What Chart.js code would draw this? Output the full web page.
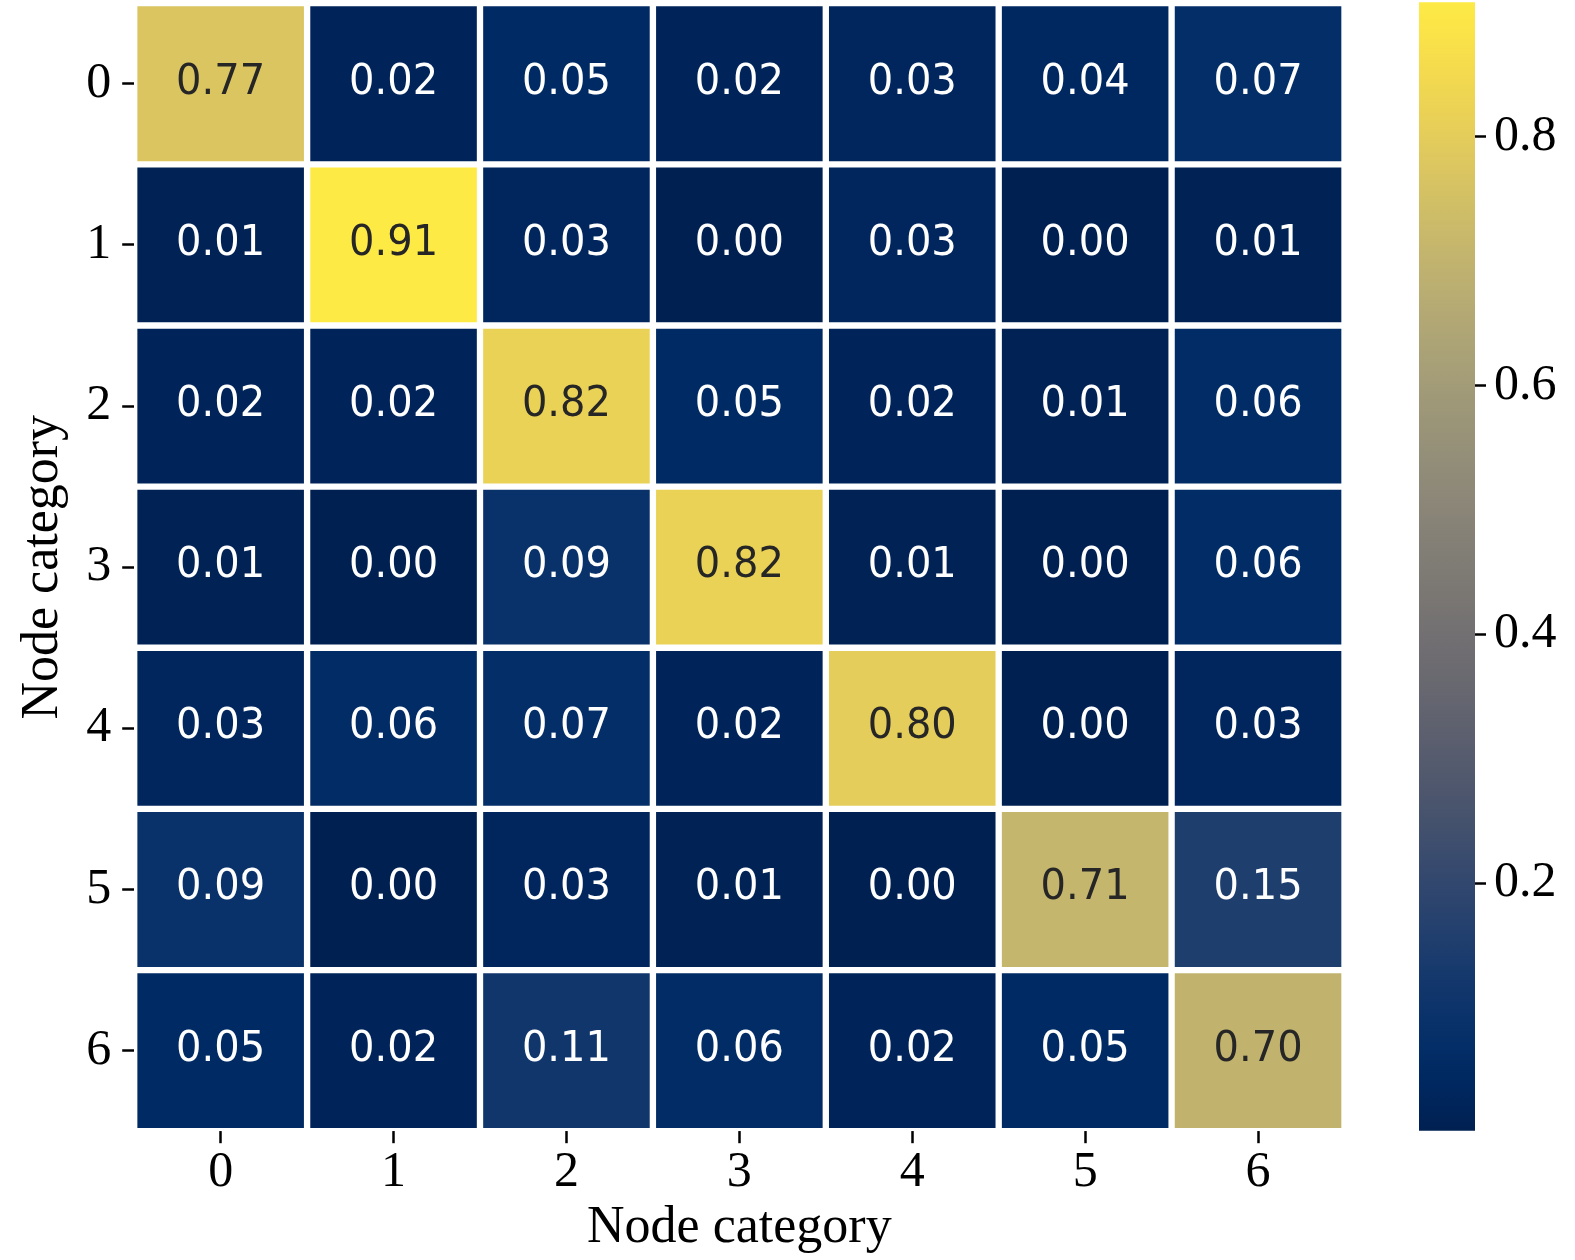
<!DOCTYPE html>
<html>
<head>
<meta charset="utf-8">
<title>Node category heatmap</title>
<script src="https://cdn.jsdelivr.net/npm/chart.js@4.4.1/dist/chart.umd.min.js"></script>
<style>
  html, body { margin: 0; padding: 0; background: #fff; }
  #wrap { position: relative; width: 1575px; height: 1260px; }
  #heat { position: absolute; left: 0; top: 0; width: 1390px; height: 1260px; }
  #cbar { position: absolute; left: 1390px; top: 0; width: 185px; height: 1260px; }
</style>
</head>
<body>
<div id="wrap">
  <canvas id="heat" width="1390" height="1260"></canvas>
  <canvas id="cbar" width="185" height="1260"></canvas>
</div>
<script>
// categories on both axes
const categories = ['0', '1', '2', '3', '4', '5', '6'];

// one array per row (true category)
const row0 = [0.77, 0.02, 0.05, 0.02, 0.03, 0.04, 0.07];
const row1 = [0.01, 0.91, 0.03, 0.00, 0.03, 0.00, 0.01];
const row2 = [0.02, 0.02, 0.82, 0.05, 0.02, 0.01, 0.06];
const row3 = [0.01, 0.00, 0.09, 0.82, 0.01, 0.00, 0.06];
const row4 = [0.03, 0.06, 0.07, 0.02, 0.80, 0.00, 0.03];
const row5 = [0.09, 0.00, 0.03, 0.01, 0.00, 0.71, 0.15];
const row6 = [0.05, 0.02, 0.11, 0.06, 0.02, 0.05, 0.70];
const matrix = [row0, row1, row2, row3, row4, row5, row6];

// colour bar range and ticks
const vmin = 0.001;
const vmax = 0.908;
const colorbarTicks = [0.2, 0.4, 0.6, 0.8];
const colorbarTickLabels = ['0.2', '0.4', '0.6', '0.8'];

const axisFont = 'Liberation Serif';
const cellFont = 'DejaVu Sans';

// cividis colormap (polynomial fit)
function cividis(t) {
  t = Math.max(0, Math.min(1, t));
  const r = -4.54 - t * (35.34 - t * (2381.73 - t * (6402.7 - t * (7024.72 - t * 2710.57))));
  const g = 32.49 + t * (170.73 + t * (52.82 - t * (131.46 - t * (176.58 - t * 67.37))));
  const b = 81.24 + t * (442.36 - t * (2482.43 - t * (6167.24 - t * (6614.94 - t * 2475.67))));
  return [r, g, b].map(c => Math.max(0, Math.min(255, Math.round(c))));
}

function norm(v) {
  return (v - vmin) / (vmax - vmin);
}

function rgb(c) {
  return `rgb(${c[0]}, ${c[1]}, ${c[2]})`;
}

// same rule as seaborn: dark text on light cells
function luminance(c) {
  const lin = c.map(x => {
    x = x / 255;
    return x <= 0.03928 ? x / 12.92 : Math.pow((x + 0.055) / 1.055, 2.4);
  });
  return 0.2126 * lin[0] + 0.7152 * lin[1] + 0.0722 * lin[2];
}

// no extra room for half tick labels at the ends
function noEdgePadding(s) {
  s.paddingTop = 0;
  s.paddingBottom = 0;
  s.paddingLeft = 0;
  s.paddingRight = 0;
}

// writes the value in each cell
const cellLabels = {
  id: 'cellLabels',
  afterDatasetsDraw(chart) {
    const ctx = chart.ctx;
    ctx.save();
    ctx.font = `40px "${cellFont}"`;
    ctx.textAlign = 'center';
    ctx.textBaseline = 'alphabetic';
    chart.data.datasets.forEach((ds, r) => {
      const meta = chart.getDatasetMeta(r);
      meta.data.forEach((bar, c) => {
        const v = matrix[r][c];
        const col = cividis(norm(v));
        ctx.fillStyle = luminance(col) > 0.408 ? '#262626' : '#ffffff';
        const cy = (bar.y + bar.base) / 2;
        ctx.save();
        ctx.translate(bar.x, cy + 10);
        ctx.scale(1, 1.07);
        ctx.fillText(v.toFixed(2), 0, 0);
        ctx.restore();
      });
    });
    ctx.restore();
  }
};

const tickGrid = {
  drawOnChartArea: false,
  drawTicks: true,
  tickLength: 12,
  tickWidth: 2.5,
  tickColor: '#000'
};

new Chart(document.getElementById('heat'), {
  type: 'bar',
  data: {
    labels: categories,
    datasets: matrix.map((row, r) => ({
      label: 'row ' + categories[r],
      data: row.map(() => [r - 0.5, r + 0.5]),
      backgroundColor: row.map(v => rgb(cividis(norm(v)))),
      borderColor: '#ffffff',
      borderWidth: 3.5,
      borderSkipped: false,
      grouped: false,
      barPercentage: 1,
      categoryPercentage: 1
    }))
  },
  options: {
    responsive: false,
    animation: false,
    layout: { padding: { top: 3.2, right: 45.5, left: 0, bottom: 0 } },
    plugins: {
      legend: { display: false },
      tooltip: { enabled: false }
    },
    scales: {
      x: {
        offset: true,
        grid: Object.assign({ offset: false }, tickGrid),
        border: { display: false },
        ticks: {
          color: '#000',
          font: { family: axisFont, size: 50 },
          padding: 0,
          maxRotation: 0
        },
        title: {
          display: true,
          text: 'Node category',
          color: '#000',
          font: { family: axisFont, size: 52 },
          padding: { top: 0, bottom: 0 }
        },
        afterFit: s => { s.height = 128.8; noEdgePadding(s); }
      },
      y: {
        type: 'linear',
        reverse: true,
        min: -0.5,
        max: 6.5,
        afterBuildTicks: s => { s.ticks = categories.map((c, i) => ({ value: i })); },
        grid: tickGrid,
        border: { display: false },
        ticks: {
          color: '#000',
          font: { family: axisFont, size: 50 },
          padding: 11,
          callback: (v, i) => categories[i]
        },
        title: {
          display: true,
          text: 'Node category',
          color: '#000',
          font: { family: axisFont, size: 52 },
          padding: { top: 12, bottom: 0 }
        },
        afterFit: s => { s.width = 134.2; noEdgePadding(s); }
      }
    }
  },
  plugins: [cellLabels]
});

// colour bar
new Chart(document.getElementById('cbar'), {
  type: 'bar',
  data: {
    labels: [''],
    datasets: [{
      data: [[vmin, vmax]],
      backgroundColor: (c) => {
        const area = c.chart.chartArea;
        if (!area) return null;
        const g = c.chart.ctx.createLinearGradient(0, area.bottom, 0, area.top);
        for (let i = 0; i <= 40; i++) {
          g.addColorStop(i / 40, rgb(cividis(i / 40)));
        }
        return g;
      },
      borderWidth: 0,
      barPercentage: 1,
      categoryPercentage: 1
    }]
  },
  options: {
    responsive: false,
    animation: false,
    layout: { padding: { left: 29, top: 2.3, bottom: 129.3, right: 0 } },
    plugins: {
      legend: { display: false },
      tooltip: { enabled: false }
    },
    scales: {
      x: { display: false },
      y: {
        position: 'right',
        min: vmin,
        max: vmax,
        afterBuildTicks: s => { s.ticks = colorbarTicks.map(v => ({ value: v })); },
        grid: { drawOnChartArea: false, drawTicks: true, tickLength: 11, tickWidth: 2.5, tickColor: '#000' },
        border: { display: false },
        ticks: {
          color: '#000',
          font: { family: axisFont, size: 50 },
          padding: 8,
          callback: (v, i) => colorbarTickLabels[i]
        },
        afterFit: s => { s.width = 100; noEdgePadding(s); }
      }
    }
  }
});
</script>
</body>
</html>
